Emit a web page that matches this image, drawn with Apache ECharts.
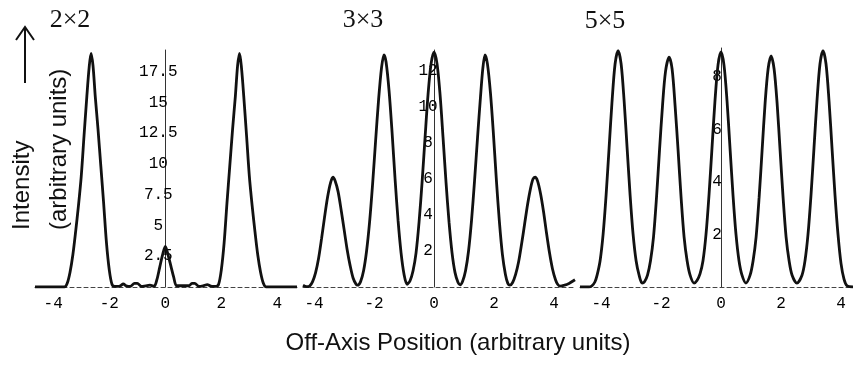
<!DOCTYPE html>
<html>
<head>
<meta charset="utf-8">
<script src="https://cdn.jsdelivr.net/npm/echarts@6/dist/echarts.min.js"></script>
<style>
  html, body { margin: 0; padding: 0; background: #fff; }
  #chart { width: 853px; height: 370px; }
</style>
</head>
<body>
<div id="chart"></div>
<script>
// panel titles
const panelNames = ['2×2', '3×3', '5×5'];

// 2x2 profile
const x2 = [-4.65, -3.8, -3.6, -3.5, -3.4, -3.3, -3.2, -3.1, -3.0, -2.9, -2.8, -2.72, -2.65, -2.58, -2.5, -2.4, -2.3, -2.2, -2.1, -2.0, -1.9, -1.8,
  -1.7, -1.6, -1.5, -1.4, -1.25, -1.1, -1.0, -0.85, -0.7, -0.55, -0.4, -0.3, -0.2, -0.1, 0, 0.1, 0.2, 0.3, 0.4, 0.55, 0.7, 0.85, 0.95, 1.05, 1.2, 1.35, 1.5, 1.6, 1.7,
  1.8, 1.9, 2.0, 2.1, 2.2, 2.3, 2.4, 2.5, 2.58, 2.65, 2.72, 2.8, 2.9, 3.0, 3.1, 3.2, 3.3, 3.4, 3.5, 3.6, 4.7];
const y2 = [0, 0, 0, 0.3, 1.2, 2.6, 4.5, 6.6, 9.0, 12.3, 15.5, 17.8, 19.0, 18.0, 15.5, 12.8, 9.8, 6.8, 3.6, 1.4, 0.2, 0.05,
  0.05, 0.1, 0.25, 0.1, 0.05, 0.3, 0.3, 0.05, 0.1, 0.15, 0.05, 0.6, 1.6, 2.6, 3.3, 2.6, 1.7, 0.8, 0.1, 0.1, 0.1, 0.1, 0.3, 0.3, 0.05, 0.1, 0.2, 0.1, 0.05,
  0.05, 0.2, 1.4, 3.6, 6.8, 9.8, 12.8, 15.5, 18.0, 19.0, 17.8, 15.5, 12.3, 9.0, 6.6, 4.5, 2.6, 1.2, 0.3, 0, 0];

// 3x3 profile
const x3 = [-4.37, -4.25, -4.15, -4.05, -3.95, -3.85, -3.75, -3.65, -3.55, -3.45, -3.37, -3.3, -3.2, -3.1, -3.0, -2.9, -2.8, -2.7, -2.6, -2.55,
  -2.45, -2.35, -2.25, -2.15, -2.05, -1.95, -1.85, -1.75, -1.67, -1.6, -1.5, -1.4, -1.3, -1.2, -1.1, -1.0, -0.9,
  -0.8, -0.7, -0.6, -0.5, -0.4, -0.3, -0.2, -0.1, 0, 0.1, 0.2, 0.3, 0.4, 0.5, 0.6, 0.7, 0.8, 0.87,
  0.95, 1.05, 1.15, 1.25, 1.35, 1.45, 1.55, 1.63, 1.7, 1.78, 1.88, 1.98, 2.08, 2.18, 2.28, 2.38, 2.46, 2.53,
  2.62, 2.72, 2.82, 2.92, 3.02, 3.12, 3.22, 3.3, 3.37, 3.45, 3.55, 3.65, 3.75, 3.85, 3.95, 4.05, 4.12, 4.2, 4.35, 4.5, 4.7];
const y3 = [0.1, 0.02, 0.05, 0.3, 0.8, 1.6, 2.7, 3.9, 5.0, 5.8, 6.1, 5.9, 5.3, 4.3, 3.2, 2.1, 1.2, 0.5, 0.15, 0.1,
  0.3, 0.9, 2.0, 3.6, 5.7, 8.1, 10.4, 12.2, 12.9, 12.5, 10.9, 8.6, 6.0, 3.7, 1.9, 0.7, 0.15,
  0.35, 0.9, 1.9, 3.6, 5.8, 8.3, 10.7, 12.4, 13.05, 12.4, 10.7, 8.3, 5.8, 3.6, 1.9, 0.8, 0.25, 0.12,
  0.3, 0.9, 2.0, 3.7, 5.9, 8.3, 10.6, 12.2, 12.9, 12.4, 10.8, 8.5, 5.9, 3.6, 1.8, 0.7, 0.2, 0.1,
  0.25, 0.7, 1.4, 2.4, 3.5, 4.6, 5.5, 6.0, 6.1, 5.9, 5.2, 4.2, 3.0, 1.9, 1.0, 0.4, 0.15, 0.05, 0.1, 0.2, 0.4];

// 5x5 profile
const x5 = [-4.7, -4.4, -4.3, -4.2, -4.13, -4.03, -3.93, -3.83, -3.73, -3.63, -3.53, -3.43, -3.33, -3.23, -3.13, -3.03, -2.93, -2.83, -2.73, -2.63,
  -2.55, -2.45, -2.35, -2.25, -2.15, -2.05, -1.95, -1.85, -1.73, -1.63, -1.53, -1.43, -1.33, -1.23, -1.13, -1.03, -0.9,
  -0.8, -0.7, -0.6, -0.5, -0.4, -0.3, -0.2, -0.1, 0, 0.1, 0.2, 0.3, 0.4, 0.5, 0.6, 0.7, 0.83,
  0.97, 1.07, 1.17, 1.27, 1.37, 1.47, 1.57, 1.67, 1.77, 1.87, 1.97, 2.07, 2.17, 2.27, 2.37, 2.53,
  2.7, 2.8, 2.9, 3.0, 3.1, 3.2, 3.3, 3.4, 3.5, 3.6, 3.7, 3.8, 3.9, 4.0, 4.1, 4.2, 4.4];
const y5 = [0, 0, 0.05, 0.2, 0.45, 1.0, 2.0, 3.5, 5.3, 7.1, 8.5, 9.0, 8.5, 7.1, 5.3, 3.5, 2.0, 1.0, 0.45, 0.15,
  0.2, 0.45, 1.0, 1.9, 3.4, 5.2, 6.9, 8.2, 8.75, 8.3, 6.9, 5.2, 3.4, 1.9, 1.0, 0.45, 0.15,
  0.25, 0.5, 1.0, 2.0, 3.5, 5.3, 7.1, 8.45, 8.95, 8.45, 7.1, 5.3, 3.5, 2.0, 1.0, 0.45, 0.15,
  0.45, 1.0, 1.9, 3.4, 5.2, 7.0, 8.3, 8.8, 8.3, 7.0, 5.2, 3.4, 1.9, 1.0, 0.45, 0.15,
  0.45, 1.0, 2.0, 3.5, 5.3, 7.1, 8.5, 9.0, 8.5, 7.1, 5.3, 3.5, 2.0, 0.9, 0.3, 0.05, 0];

const pairs = (xs, ys) => xs.map((x, i) => [x, ys[i]]);

const monoFont = 'Liberation Mono';
const grids = [
  { left: 35, top: 50, width: 262, height: 237 },
  { left: 303, top: 50, width: 272, height: 237 },
  { left: 580, top: 48, width: 273, height: 239 }
];
const xRange = [[-4.65, 4.7], [-4.37, 4.7], [-4.7, 4.4]];
const yMax = [19.27, 13.17, 9.1];
const yStep = [2.5, 2, 2];
const yLabelGap = [7, 6, 4];

// pixel distance from grid left edge to x = 0, so the y axis sits on zero
const zeroShift = grids.map((g, i) => g.width * (0 - xRange[i][0]) / (xRange[i][1] - xRange[i][0]));

const myChart = echarts.init(document.querySelector('#chart'));

const titleFont = '26px "Liberation Serif"';
const nameFont = '24px "Liberation Sans"';

const option = {
  animation: false,
  backgroundColor: '#fff',
  grid: grids,
  xAxis: grids.map((g, i) => ({
    type: 'value',
    gridIndex: i,
    min: xRange[i][0],
    max: xRange[i][1],
    splitNumber: 5,
    axisLine: { onZero: false, lineStyle: { color: '#444', width: 1, type: [4, 3] } },
    axisTick: { show: false },
    splitLine: { show: false },
    axisLabel: {
      showMinLabel: false,
      showMaxLabel: false,
      margin: 9,
      fontFamily: monoFont,
      fontSize: 16,
      color: '#000'
    }
  })),
  yAxis: grids.map((g, i) => ({
    type: 'value',
    gridIndex: i,
    position: 'left',
    offset: -zeroShift[i],
    min: 0,
    max: yMax[i],
    interval: yStep[i],
    axisLine: { show: true, onZero: false, lineStyle: { color: '#333', width: 1 } },
    axisTick: { show: false },
    splitLine: { show: false },
    axisLabel: {
      showMinLabel: false,
      showMaxLabel: false,
      align: 'center',
      margin: yLabelGap[i],
      fontFamily: monoFont,
      fontSize: 16,
      color: '#000'
    }
  })),
  series: [pairs(x2, y2), pairs(x3, y3), pairs(x5, y5)].map((d, i) => ({
    type: 'line',
    xAxisIndex: i,
    yAxisIndex: i,
    data: d,
    showSymbol: false,
    smooth: 0.3,
    lineStyle: { color: '#111', width: 2.8 }
  })),
  graphic: [
    { type: 'text', x: 70, y: 20, style: { text: panelNames[0], font: titleFont, fill: '#111', textAlign: 'center', textVerticalAlign: 'middle' } },
    { type: 'text', x: 363, y: 20, style: { text: panelNames[1], font: titleFont, fill: '#111', textAlign: 'center', textVerticalAlign: 'middle' } },
    { type: 'text', x: 605, y: 21, style: { text: panelNames[2], font: titleFont, fill: '#111', textAlign: 'center', textVerticalAlign: 'middle' } },
    { type: 'text', x: 22, y: 230, rotation: Math.PI / 2, style: { text: 'Intensity', font: nameFont, fill: '#111', textAlign: 'left', textVerticalAlign: 'middle' } },
    { type: 'text', x: 59, y: 230, rotation: Math.PI / 2, style: { text: '(arbitrary units)', font: nameFont, fill: '#111', textAlign: 'left', textVerticalAlign: 'middle' } },
    { type: 'line', shape: { x1: 25, y1: 83, x2: 25, y2: 27 }, style: { stroke: '#111', lineWidth: 2 } },
    { type: 'polyline', shape: { points: [[16, 40], [25, 27], [34, 40]] }, style: { stroke: '#111', lineWidth: 2, fill: null } },
    { type: 'text', x: 458, y: 343, style: { text: 'Off-Axis Position (arbitrary units)', font: nameFont, fill: '#111', textAlign: 'center', textVerticalAlign: 'middle' } }
  ]
};

myChart.setOption(option);

window.addEventListener('resize', function() {
  myChart.resize();
});
</script>
</body>
</html>
